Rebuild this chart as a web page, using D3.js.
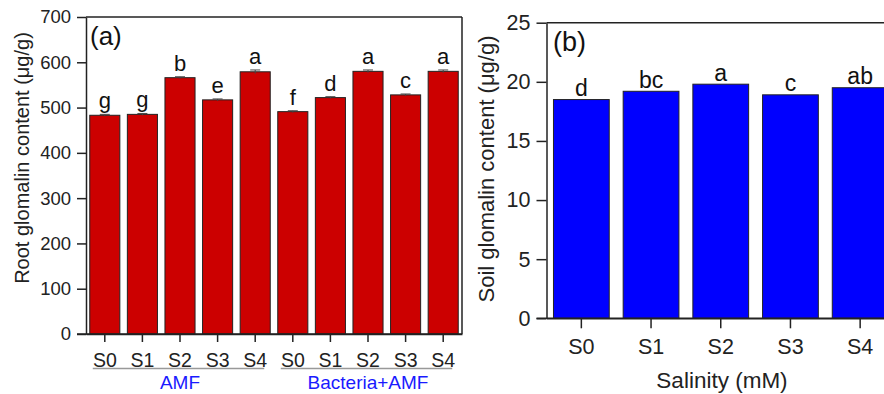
<!DOCTYPE html>
<html>
<head>
<meta charset="utf-8">
<script src="https://cdn.jsdelivr.net/npm/d3@7"></script>
<style>
  html, body { margin: 0; padding: 0; background: #fff; }
  svg { display: block; font-family: Arial, "Liberation Sans", sans-serif; }
</style>
</head>
<body>
<div id="chart"></div>
<script>
// panel (a): root glomalin
const rootCats = ['S0', 'S1', 'S2', 'S3', 'S4', 'S0', 'S1', 'S2', 'S3', 'S4'];
const rootValues = [483, 485, 566, 517, 579, 491, 522, 580, 528, 580];
const rootErrors = [2, 2, 2, 2, 4, 2, 2, 3, 2, 3];
const rootLetters = ['g', 'g', 'b', 'e', 'a', 'f', 'd', 'a', 'c', 'a'];
const rootGroups = ['AMF', 'Bacteria+AMF'];
const rootTicks = [0, 100, 200, 300, 400, 500, 600, 700];

// panel (b): soil glomalin
const soilCats = ['S0', 'S1', 'S2', 'S3', 'S4'];
const soilValues = [18.5, 19.2, 19.8, 18.9, 19.5];
const soilLetters = ['d', 'bc', 'a', 'c', 'ab'];
const soilTicks = [0, 5, 10, 15, 20, 25];

const width = 884, height = 394;
const ink = '#222';

const svg = d3.select('#chart').append('svg')
  .attr('width', width)
  .attr('height', height);

// ---------- panel (a) ----------
const a = { left: 86, right: 462, top: 17, bottom: 334 };

const xa = d3.scaleBand()
  .domain(d3.range(rootCats.length))
  .range([a.left, a.right])
  .paddingInner(0.2)
  .paddingOuter(0.1);
const ya = d3.scaleLinear().domain([0, 700]).range([a.bottom, a.top]);

const ga = svg.append('g');

ga.selectAll('rect.bar')
  .data(rootValues)
  .join('rect')
  .attr('class', 'bar')
  .attr('x', (d, i) => xa(i))
  .attr('y', d => ya(d))
  .attr('width', xa.bandwidth())
  .attr('height', d => ya(0) - ya(d))
  .attr('fill', '#cc0000')
  .attr('stroke', ink)
  .attr('stroke-width', 1);

// error bars
const errA = ga.selectAll('g.err')
  .data(rootValues)
  .join('g')
  .attr('class', 'err')
  .attr('stroke', '#444')
  .attr('stroke-width', 1);
errA.append('line')
  .attr('x1', (d, i) => xa(i) + xa.bandwidth() / 2)
  .attr('x2', (d, i) => xa(i) + xa.bandwidth() / 2)
  .attr('y1', (d, i) => ya(d - rootErrors[i]))
  .attr('y2', (d, i) => ya(d + rootErrors[i]));
errA.append('line')
  .attr('x1', (d, i) => xa(i) + xa.bandwidth() / 2 - 5)
  .attr('x2', (d, i) => xa(i) + xa.bandwidth() / 2 + 5)
  .attr('y1', (d, i) => ya(d + rootErrors[i]))
  .attr('y2', (d, i) => ya(d + rootErrors[i]));

ga.selectAll('text.letter')
  .data(rootValues)
  .join('text')
  .attr('class', 'letter')
  .attr('x', (d, i) => xa(i) + xa.bandwidth() / 2)
  .attr('y', (d, i) => ya(d + rootErrors[i]) - 6)
  .attr('text-anchor', 'middle')
  .attr('font-size', 22)
  .attr('fill', '#111')
  .text((d, i) => rootLetters[i]);

// y axis
ga.append('g')
  .attr('transform', `translate(${a.left},0)`)
  .call(d3.axisLeft(ya).tickValues(rootTicks).tickSize(9).tickPadding(6).tickSizeOuter(0))
  .call(g => g.select('.domain').attr('stroke', ink).attr('stroke-width', 1.5))
  .call(g => g.selectAll('.tick line').attr('stroke', ink).attr('stroke-width', 1.5))
  .call(g => g.selectAll('.tick text').attr('fill', '#222').attr('font-size', 18.5)
    .attr('font-family', 'Arial, "Liberation Sans", sans-serif'));

// x axis
ga.append('g')
  .attr('transform', `translate(0,${a.bottom})`)
  .call(d3.axisBottom(xa).tickFormat(i => rootCats[i]).tickSize(8).tickPadding(11).tickSizeOuter(0))
  .call(g => g.select('.domain').attr('stroke', ink).attr('stroke-width', 1.5))
  .call(g => g.selectAll('.tick line').attr('stroke', ink).attr('stroke-width', 1.5))
  .call(g => g.selectAll('.tick text').attr('fill', '#222').attr('font-size', 19.5)
    .attr('font-family', 'Arial, "Liberation Sans", sans-serif'));

// extend bottom line left of the y axis and frame
ga.append('line').attr('x1', a.left - 9).attr('x2', a.right).attr('y1', a.bottom).attr('y2', a.bottom)
  .attr('stroke', ink).attr('stroke-width', 1.5);
ga.append('line').attr('x1', a.left).attr('x2', a.right).attr('y1', a.top).attr('y2', a.top)
  .attr('stroke', ink).attr('stroke-width', 1.5);
ga.append('line').attr('x1', a.right).attr('x2', a.right).attr('y1', a.top).attr('y2', a.bottom)
  .attr('stroke', ink).attr('stroke-width', 1.5);

// group underlines and names
rootGroups.forEach((name, gi) => {
  const first = xa(gi * 5), last = xa(gi * 5 + 4) + xa.bandwidth();
  ga.append('line')
    .attr('x1', first + 3).attr('x2', last - 6)
    .attr('y1', 368.5).attr('y2', 368.5)
    .attr('stroke', '#999').attr('stroke-width', 1.5);
  ga.append('text')
    .attr('x', (first + last) / 2)
    .attr('y', 389)
    .attr('text-anchor', 'middle')
    .attr('font-size', 19)
    .attr('fill', '#1a1aff')
    .text(name);
});

ga.append('text')
  .attr('x', 90).attr('y', 45)
  .attr('font-size', 26)
  .attr('fill', '#111')
  .text('(a)');

ga.append('text')
  .attr('transform', 'translate(28.5,158) rotate(-90)')
  .attr('text-anchor', 'middle')
  .attr('font-size', 20)
  .attr('fill', '#222')
  .text('Root glomalin content (\u03bcg/g)');

// ---------- panel (b) ----------
const b = { left: 546.5, right: 895, top: 22.7, bottom: 318.3 };

const xb = d3.scaleBand()
  .domain(soilCats)
  .range([b.left, b.right])
  .paddingInner(0.2)
  .paddingOuter(0.1);
const yb = d3.scaleLinear().domain([0, 25]).range([b.bottom, b.top]);

const gb = svg.append('g');

gb.selectAll('rect.bar')
  .data(soilValues)
  .join('rect')
  .attr('class', 'bar')
  .attr('x', (d, i) => xb(soilCats[i]))
  .attr('y', d => yb(d))
  .attr('width', xb.bandwidth())
  .attr('height', d => yb(0) - yb(d))
  .attr('fill', '#0000ff')
  .attr('stroke', ink)
  .attr('stroke-width', 1);

gb.selectAll('text.letter')
  .data(soilValues)
  .join('text')
  .attr('class', 'letter')
  .attr('x', (d, i) => xb(soilCats[i]) + xb.bandwidth() / 2)
  .attr('y', d => yb(d) - 3.5)
  .attr('text-anchor', 'middle')
  .attr('font-size', 23)
  .attr('fill', '#111')
  .text((d, i) => soilLetters[i]);

gb.append('g')
  .attr('transform', `translate(${b.left},0)`)
  .call(d3.axisLeft(yb).tickValues(soilTicks).tickSize(10).tickPadding(6).tickSizeOuter(0))
  .call(g => g.select('.domain').attr('stroke', ink).attr('stroke-width', 1.5))
  .call(g => g.selectAll('.tick line').attr('stroke', ink).attr('stroke-width', 1.5))
  .call(g => g.selectAll('.tick text').attr('fill', '#222').attr('font-size', 21.5)
    .attr('font-family', 'Arial, "Liberation Sans", sans-serif'));

gb.append('g')
  .attr('transform', `translate(0,${b.bottom})`)
  .call(d3.axisBottom(xb).tickSize(10).tickPadding(10).tickSizeOuter(0))
  .call(g => g.select('.domain').attr('stroke', ink).attr('stroke-width', 1.5))
  .call(g => g.selectAll('.tick line').attr('stroke', ink).attr('stroke-width', 1.5))
  .call(g => g.selectAll('.tick text').attr('fill', '#222').attr('font-size', 21.5)
    .attr('font-family', 'Arial, "Liberation Sans", sans-serif'));

gb.append('line').attr('x1', b.left - 10).attr('x2', width).attr('y1', b.bottom).attr('y2', b.bottom)
  .attr('stroke', ink).attr('stroke-width', 1.5);
gb.append('line').attr('x1', b.left).attr('x2', width).attr('y1', b.top).attr('y2', b.top)
  .attr('stroke', ink).attr('stroke-width', 1.5);

gb.append('text')
  .attr('x', 553).attr('y', 51)
  .attr('font-size', 27)
  .attr('fill', '#111')
  .text('(b)');

gb.append('text')
  .attr('transform', 'translate(494,169) rotate(-90)')
  .attr('text-anchor', 'middle')
  .attr('font-size', 22)
  .attr('fill', '#222')
  .text('Soil glomalin content (\u03bcg/g)');

gb.append('text')
  .attr('x', 722).attr('y', 388)
  .attr('text-anchor', 'middle')
  .attr('font-size', 22.5)
  .attr('fill', '#222')
  .text('Salinity (mM)');
</script>
</body>
</html>
